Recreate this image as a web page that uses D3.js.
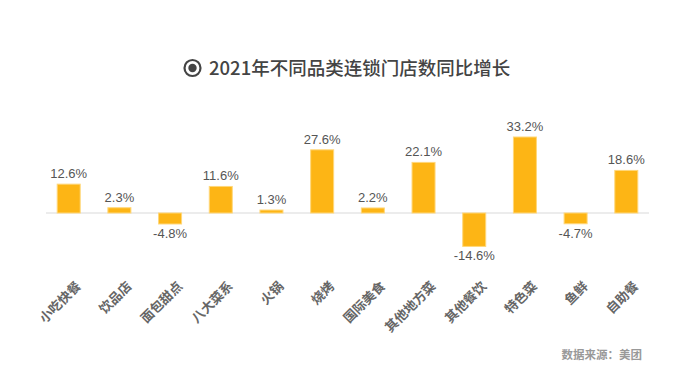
<!DOCTYPE html>
<html>
<head>
<meta charset="utf-8">
<script src="https://cdn.jsdelivr.net/npm/d3@7"></script>
<style>
  body { margin: 0; background: #fff; }
  svg { display: block; }
</style>
</head>
<body>
<svg id="svg"></svg>
<script>
const categories = ["小吃快餐", "饮品店", "面包甜点", "八大菜系", "火锅", "烧烤",
                    "国际美食", "其他地方菜", "其他餐饮", "特色菜", "鱼鲜", "自助餐"];
const growth = [12.6, 2.3, -4.8, 11.6, 1.3, 27.6, 2.2, 22.1, -14.6, 33.2, -4.7, 18.6];
const titleText = "2021年不同品类连锁门店数同比增长";
const sourceText = "数据来源：美团";

const layout = {"width": 700, "height": 377};

const svg = d3.select("#svg")
  .attr("width", layout.width)
  .attr("height", layout.height);

const data = categories.map((c, i) => ({name: c, value: growth[i]}));

const xScale = d3.scalePoint()
  .domain(categories)
  .range([68.7, 626.3]);

const yScale = d3.scaleLinear()
  .domain([0, 33.2])
  .range([213, 137]);

const barWidth = 23;

// title with the little radio-style icon
const title = svg.append("g");
title.append("circle")
  .attr("cx", 192.5).attr("cy", 68).attr("r", 8)
  .attr("fill", "none").attr("stroke", "#444").attr("stroke-width", 2.2);
title.append("circle")
  .attr("cx", 192.5).attr("cy", 68).attr("r", 4.2)
  .attr("fill", "#444");
title.append("text")
  .attr("x", 209).attr("y", 74.5)
  .attr("font-family", "'Noto Sans CJK SC', 'Liberation Sans', sans-serif")
  .attr("font-size", 18.5)
  .attr("font-weight", 500)
  .attr("fill", "#444")
  .text(titleText);

// zero line
svg.append("line")
  .attr("x1", 46).attr("x2", 649)
  .attr("y1", yScale(0)).attr("y2", yScale(0))
  .attr("stroke", "#ececec")
  .attr("stroke-width", 2);

svg.append("g")
  .selectAll("rect")
  .data(data)
  .join("rect")
  .attr("x", d => xScale(d.name) - barWidth / 2)
  .attr("width", barWidth)
  .attr("y", d => Math.min(yScale(d.value), yScale(0)))
  .attr("height", d => Math.abs(yScale(d.value) - yScale(0)))
  .attr("fill", "#fdb515")
  .attr("stroke", "#ffd77a")
  .attr("stroke-width", 1);

svg.append("g")
  .selectAll("text")
  .data(data)
  .join("text")
  .attr("x", d => xScale(d.name))
  .attr("y", d => d.value >= 0 ? yScale(d.value) - 6 : yScale(d.value) + 14)
  .attr("text-anchor", "middle")
  .attr("font-family", "'Liberation Sans', Arial, sans-serif")
  .attr("font-size", 13)
  .attr("fill", "#555")
  .text(d => d.value.toFixed(1) + "%");

// category labels, rotated
svg.append("g")
  .selectAll("text")
  .data(categories)
  .join("text")
  .attr("transform", d => `translate(${xScale(d) + 13}, 287) rotate(-45)`)
  .attr("text-anchor", "end")
  .attr("font-family", "'Noto Sans CJK SC', sans-serif")
  .attr("font-size", 13)
  .attr("font-weight", "bold")
  .attr("fill", "#666")
  .text(d => d);

svg.append("text")
  .attr("x", 642).attr("y", 359)
  .attr("text-anchor", "end")
  .attr("font-family", "'Noto Sans CJK SC', sans-serif")
  .attr("font-size", 11.5)
  .attr("font-weight", "bold")
  .attr("fill", "#999")
  .text(sourceText);
</script>
</body>
</html>
